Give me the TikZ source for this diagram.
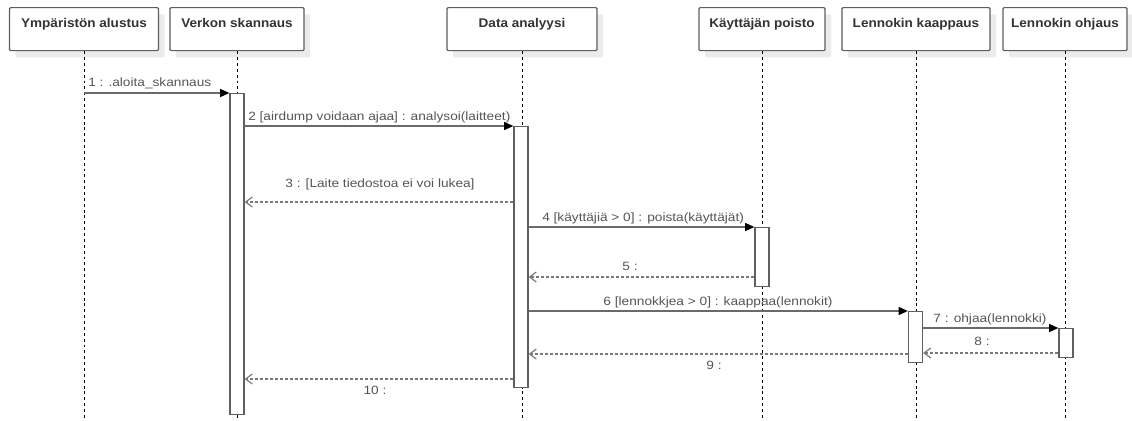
\documentclass[tikz,border=0pt]{standalone}
\usepackage{fontspec}
\setmainfont{Liberation Sans}
\newfontfamily\lblfont[FakeStretch=1.14]{Liberation Sans}
\newfontfamily\ttlfont[FakeStretch=1.07]{Liberation Sans}
\usetikzlibrary{arrows.meta,shadows}
\definecolor{boxline}{HTML}{5F5F5F}
\definecolor{titlec}{HTML}{333333}
\definecolor{labelc}{HTML}{555555}
\definecolor{msgc}{HTML}{6A6A6A}
\definecolor{shadowc}{HTML}{EBEBEB}
\begin{document}
\begin{tikzpicture}[x=0.75pt,y=-0.75pt,
  lifebox/.style={draw=boxline, line width=0.9pt, fill=white, rounded corners=0.8pt,
    minimum height=32.25pt, inner xsep=0pt, inner ysep=0pt, text height=15pt, text depth=17.25pt,
    font=\ttlfont\bfseries\fontsize{9.5}{10}\selectfont, text=titlec, anchor=north,
    drop shadow={shadow xshift=4.5pt, shadow yshift=-5pt, fill=shadowc, draw=none, opacity=1}},
  act/.style={draw=boxline, line width=0.9pt, fill=white, minimum width=10.5pt, inner sep=0pt, anchor=north},
  life/.style={draw=black, line width=0.6pt, dash pattern=on 2.2pt off 2.2pt},
  msg/.style={draw=msgc, line width=1pt, -{Triangle[length=7pt,width=6pt,fill=black,color=black]}},
  ret/.style={draw=msgc!90, line width=0.9pt, dash pattern=on 2.25pt off 1.5pt, -{Straight Barb[length=5pt,width=7.5pt]}},
  lbl/.style={font=\lblfont\fontsize{9}{10}\selectfont, text=labelc, inner sep=0pt}
]
\useasboundingbox (0,0) rectangle (1132,421);

% lifeline heads
\node[lifebox, minimum width=111.75pt] (b1) at (84,7) {Ympäristön alustus};
\node[lifebox, minimum width=100.5pt] (b2) at (237,7) {Verkon skannaus};
\node[lifebox, minimum width=112.5pt] (b3) at (522,7) {Data analyysi};
\node[lifebox, minimum width=94.5pt] (b4) at (762,7) {Käyttäjän poisto};
\node[lifebox, minimum width=111pt] (b5) at (916,7) {Lennokin kaappaus};
\node[lifebox, minimum width=93pt] (b6) at (1065,7) {Lennokin ohjaus};

% lifeline ends
\coordinate (e1) at (84,421);
\coordinate (e2) at (237,421);
\coordinate (e3) at (522,421);
\coordinate (e4) at (762,421);
\coordinate (e5) at (916,421);
\coordinate (e6) at (1065,421);

\draw[life] (b1.south) -- (e1);
\draw[life] (b2.south) -- (e2);
\draw[life] (b3.south) -- (e3);
\draw[life] (b4.south) -- (e4);
\draw[life] (b5.south) -- (e5);
\draw[life] (b6.south) -- (e6);

% activations
\node[act, minimum height=240.75pt] (a2) at (237,93) {};
\node[act, minimum height=195.75pt] (a3) at (521,126) {};
\node[act, minimum height=44.25pt] (a4) at (762,227) {};
\node[act, minimum height=38.25pt] (a5) at (915.5,311) {};
\node[act, minimum height=21.75pt] (a6) at (1066,328) {};

% message rows
\coordinate (y3) at (0,202);
\coordinate (y5) at (0,277);
\coordinate (y8) at (0,353);
\coordinate (y9) at (0,354);
\coordinate (y10) at (0,379);

\draw[msg] (a2.north west -| b1.south) -- (a2.north west);
\draw[msg] (a3.north west -| a2.east) -- (a3.north west);
\draw[ret] (a3.west |- y3) -- (a2.east |- y3);
\draw[msg] (a4.north west -| a3.east) -- (a4.north west);
\draw[ret] (a4.west |- y5) -- (a3.east |- y5);
\draw[msg] (a5.north west -| a3.east) -- (a5.north west);
\draw[msg] (a6.north west -| a5.east) -- (a6.north west);
\draw[ret] (a6.west |- y8) -- (a5.east |- y8);
\draw[ret] (a5.west |- y9) -- (a3.east |- y9);
\draw[ret] (a3.west |- y10) -- (a2.east |- y10);

% labels
\node[lbl, anchor=base west] (t1) at (88,86) {1 : .aloita\_skannaus};
\node[lbl, anchor=base west] (t2) at (248,120) {2 [airdump voidaan ajaa] : analysoi(laitteet)};
\node[lbl, anchor=base] (t3) at (380,187) {3 : [Laite tiedostoa ei voi lukea]};
\node[lbl, anchor=base west] (t4) at (542,221) {4 [käyttäjiä > 0] : poista(käyttäjät)};
\node[lbl, anchor=base] (t5) at (630,270) {5 :};
\node[lbl, anchor=base] (t6) at (718,305) {6 [lennokkjea > 0] : kaappaa(lennokit)};
\node[lbl, anchor=base] (t7) at (990,322) {7 : ohjaa(lennokki)};
\node[lbl, anchor=base] (t8) at (982,345) {8 :};
\node[lbl, anchor=base] (t9) at (714,369) {9 :};
\node[lbl, anchor=base] (t10) at (375,394) {10 :};
\end{tikzpicture}
\end{document}
